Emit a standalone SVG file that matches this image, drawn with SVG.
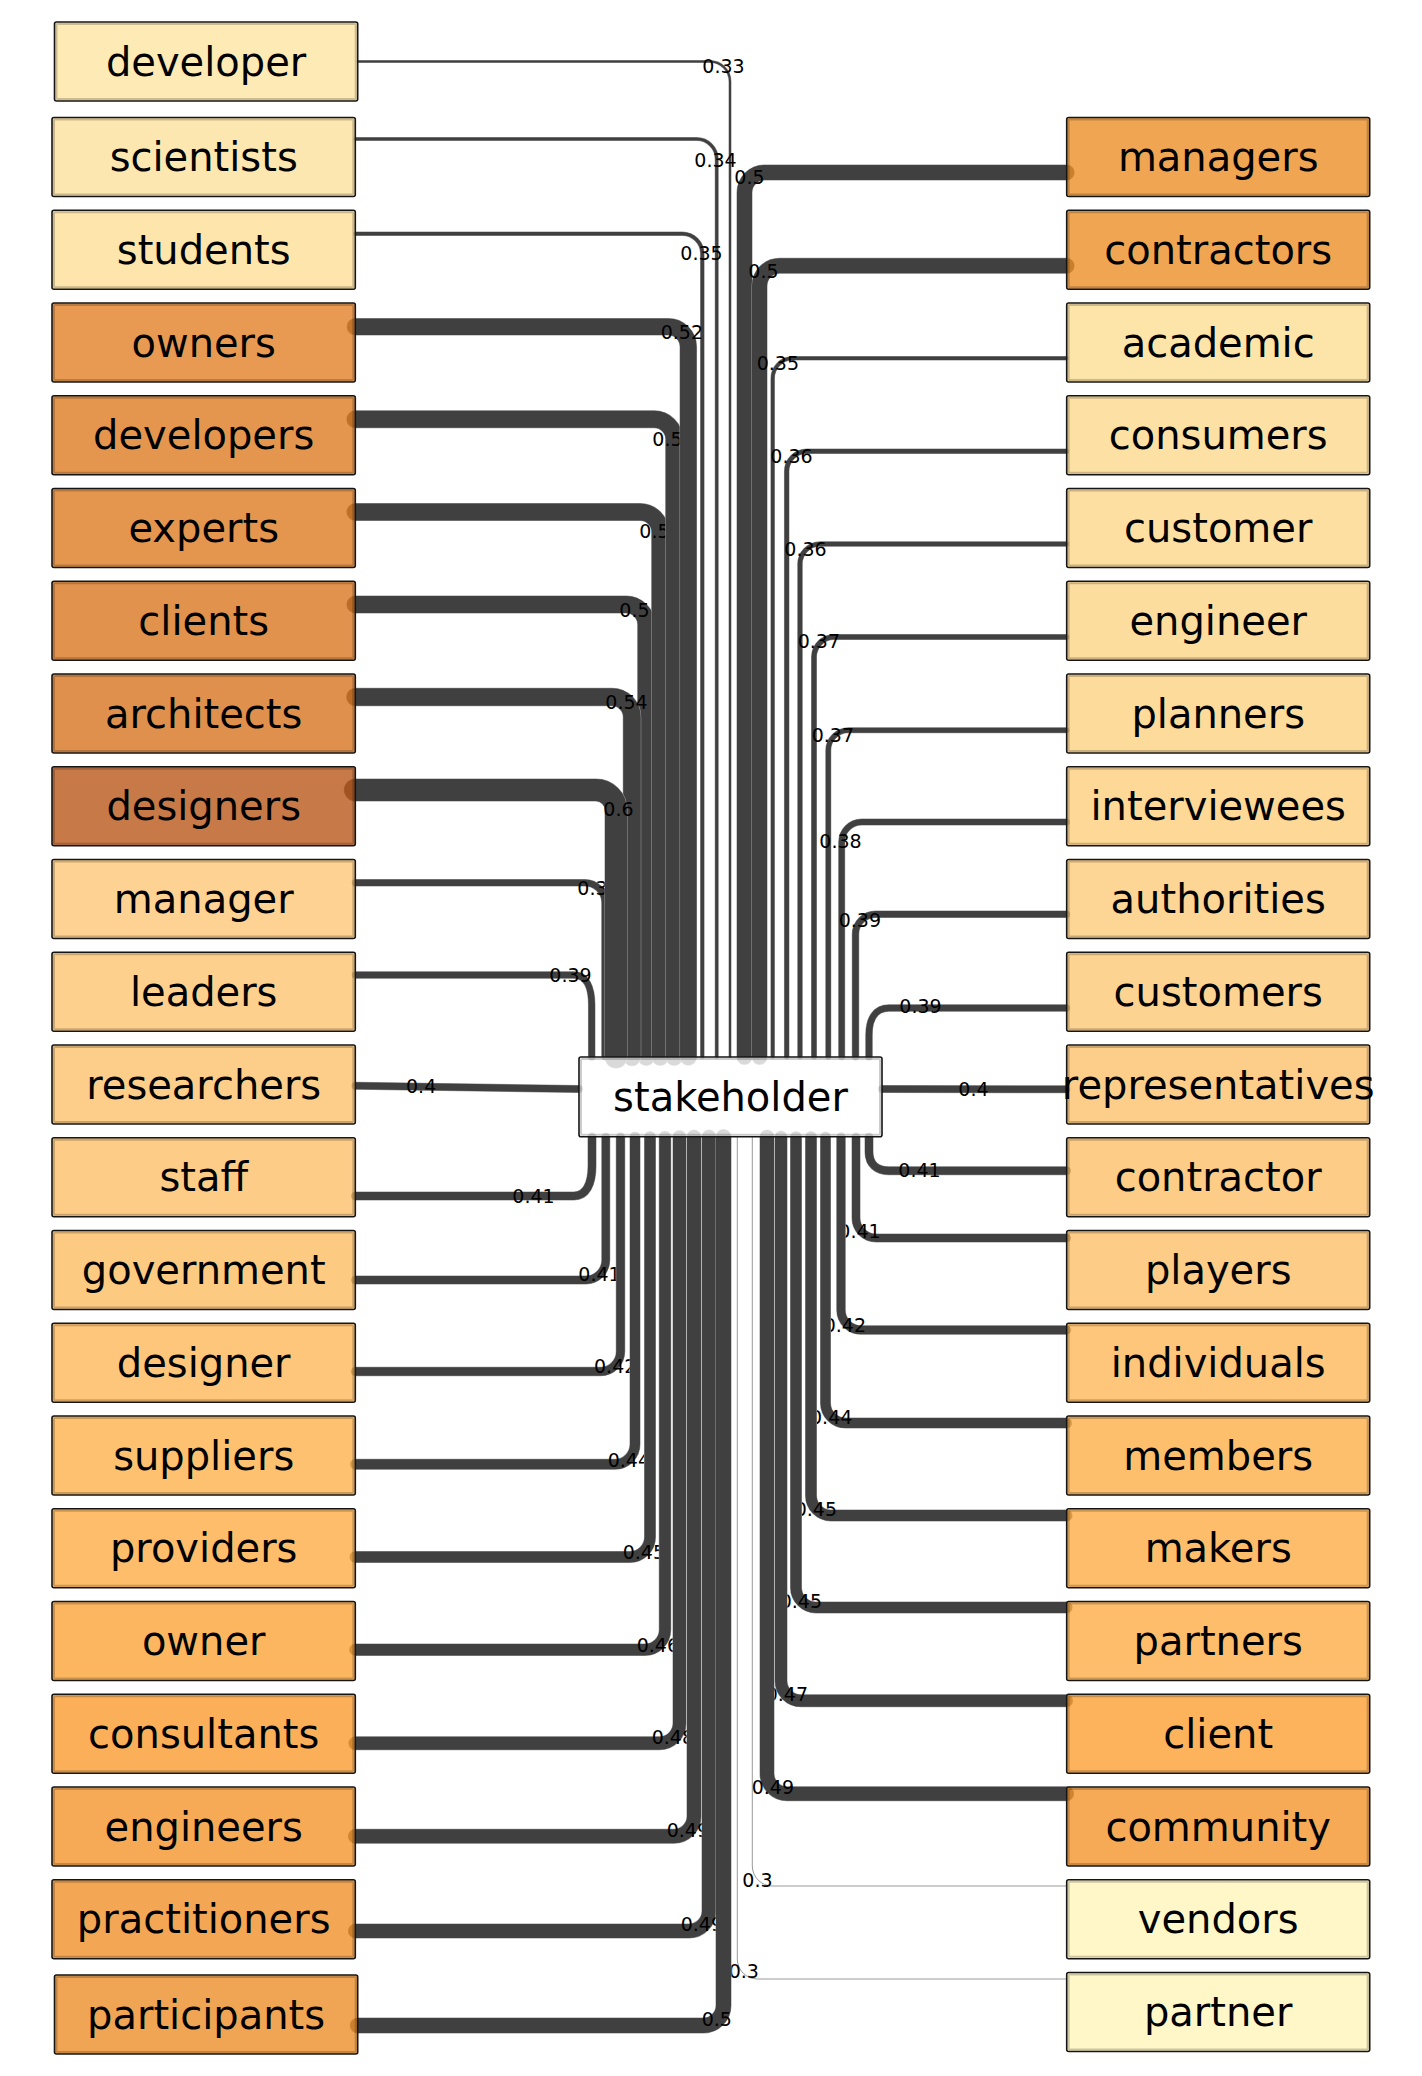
<svg xmlns="http://www.w3.org/2000/svg" xmlns:xlink="http://www.w3.org/1999/xlink" width="1422" height="2076" viewBox="0 0 1422 2076">
<style>
  .halo{fill:none;stroke:#9c9c9c;stroke-linecap:round;stroke-linejoin:round}
  .line{fill:none;stroke:#404040;stroke-linecap:round;stroke-linejoin:round}
  .thin{fill:none;stroke:#9a9a9a;stroke-width:1}
  .lbl{font-family:"DejaVu Sans",sans-serif;font-size:19px;fill:#000}
  .node rect.box{fill-opacity:0.8;stroke:#151515;stroke-width:1.6}
  .node rect.rim{fill:none;stroke:#000;stroke-opacity:0.2;stroke-width:2}
  .node text{font-family:"DejaVu Sans",sans-serif;font-size:40px;text-anchor:middle;fill:#000}
</style>
<defs>
  <!-- edge geometry: left column, routed over the hub -->
  <path id="p-developer" d="M357.7 61.5 H710 C721 61.5 730 70.5 730 81.5 V1057"/>
  <path id="p-scientists" d="M355.3 139 H696.7 C707.7 139 716.7 148 716.7 159 V1057"/>
  <path id="p-students" d="M355.3 233.7 H682.3 C693.3 233.7 702.3 242.7 702.3 253.7 V1057"/>
  <path id="p-owners" d="M355.3 326.7 H668.3 C679.3 326.7 688.3 335.7 688.3 346.7 V1057"/>
  <path id="p-developers" d="M355.3 419.3 H654.2 C665.2 419.3 674.2 428.3 674.2 439.3 V1057"/>
  <path id="p-experts" d="M355.3 512 H640.2 C651.2 512 660.2 521 660.2 532 V1057"/>
  <path id="p-clients" d="M355.3 604.5 H626.2 C637.2 604.5 646.2 613.5 646.2 624.5 V1057"/>
  <path id="p-architects" d="M355.3 697 H612 C623 697 632 706 632 717 V1057"/>
  <path id="p-designers" d="M355.3 790 H596 C607 790 616 799 616 810 V1057"/>
  <path id="p-manager" d="M355.3 882.7 H585 C596 882.7 605 891.7 605 902.7 V1057"/>
  <path id="p-leaders" d="M355.3 975 H574 C586 975 591.7 987 591.7 1005 V1057"/>
  <!-- right column, routed over the hub -->
  <path id="p-managers" d="M1066.7 172.5 H764.5 C753.5 172.5 744.5 181.5 744.5 192.5 V1057"/>
  <path id="p-contractors" d="M1066.7 265.8 H779.5 C768.5 265.8 759.5 274.8 759.5 285.8 V1057"/>
  <path id="p-academic" d="M1066.7 358.3 H792.7 C781.7 358.3 772.7 367.3 772.7 378.3 V1057"/>
  <path id="p-consumers" d="M1066.7 451.3 H806.7 C795.7 451.3 786.7 460.3 786.7 471.3 V1057"/>
  <path id="p-customer" d="M1066.7 544 H820 C809 544 800 553 800 564 V1057"/>
  <path id="p-engineer" d="M1066.7 637 H834 C823 637 814 646 814 657 V1057"/>
  <path id="p-planners" d="M1066.7 730.3 H848.3 C837.3 730.3 828.3 739.3 828.3 750.3 V1057"/>
  <path id="p-interviewees" d="M1066.7 822 H861.7 C850.7 822 841.7 831 841.7 842 V1057"/>
  <path id="p-authorities" d="M1066.7 914.2 H875.5 C864.5 914.2 855.5 923.2 855.5 934.2 V1057"/>
  <path id="p-customers" d="M1066.7 1008 H889 C876 1008 869 1018 869 1035 V1057"/>
  <!-- straight side links -->
  <path id="p-researchers" d="M355.3 1085.8 L579 1089"/>
  <path id="p-representatives" d="M882 1089 L1066.7 1089.3"/>
  <!-- left column, routed under the hub -->
  <path id="p-staff" d="M355.3 1196 H574 C586 1196 592 1184 592 1166 V1137"/>
  <path id="p-government" d="M355.3 1280 H585.8 C596.8 1280 605.8 1271 605.8 1260 V1137"/>
  <path id="p-designer" d="M355.3 1371.6 H600.5 C611.5 1371.6 620.5 1362.6 620.5 1351.6 V1137"/>
  <path id="p-suppliers" d="M355.3 1464.3 H615 C626 1464.3 635 1455.3 635 1444.3 V1137"/>
  <path id="p-providers" d="M355.3 1557 H630 C641 1557 650 1548 650 1537 V1137"/>
  <path id="p-owner" d="M355.3 1649.7 H645 C656 1649.7 665 1640.7 665 1629.7 V1137"/>
  <path id="p-consultants" d="M355.3 1743.3 H659.5 C670.5 1743.3 679.5 1734.3 679.5 1723.3 V1137"/>
  <path id="p-engineers" d="M355.3 1836.3 H674 C685 1836.3 694 1827.3 694 1816.3 V1137"/>
  <path id="p-practitioners" d="M355.3 1931 H689 C700 1931 709 1922 709 1911 V1137"/>
  <path id="p-participants" d="M357.7 2025.5 H703.5 C714.5 2025.5 723.5 2016.5 723.5 2005.5 V1137"/>
  <!-- right column, routed under the hub -->
  <path id="p-contractor" d="M1066.7 1170.8 H889 C877 1170.8 869 1164 869 1152 V1137"/>
  <path id="p-players" d="M1066.7 1238 H876 C865 1238 856 1229 856 1218 V1137"/>
  <path id="p-individuals" d="M1066.7 1330 H861 C850 1330 841 1321 841 1310 V1137"/>
  <path id="p-members" d="M1066.7 1423 H845.5 C834.5 1423 825.5 1414 825.5 1403 V1137"/>
  <path id="p-makers" d="M1066.7 1515.5 H831 C820 1515.5 811 1506.5 811 1495.5 V1137"/>
  <path id="p-partners" d="M1066.7 1607.5 H816 C805 1607.5 796 1598.5 796 1587.5 V1137"/>
  <path id="p-client" d="M1066.7 1700.8 H801 C790 1700.8 781 1691.8 781 1680.8 V1137"/>
  <path id="p-community" d="M1066.7 1793.7 H787 C776 1793.7 767 1784.7 767 1773.7 V1137"/>
  <path id="p-vendors" d="M1066.7 1886 H772.3 C761.3 1886 752.3 1877 752.3 1866 V1137"/>
  <path id="p-partner" d="M1066.7 1979 H757.3 C746.3 1979 737.3 1970 737.3 1959 V1137"/>
</defs>
<rect width="1422" height="2076" fill="#fff"/>
<!-- connectors, weakest first so heavier links sit on top -->
<g id="connectors">
  <g id="e-vendors"><use href="#p-vendors" class="thin"/><text class="lbl" x="742.3" y="1887.3">0.3</text></g>
  <g id="e-partner"><use href="#p-partner" class="thin"/><text class="lbl" x="728.7" y="1978.3">0.3</text></g>
  <g id="e-developer"><use href="#p-developer" class="halo" stroke-width="3"/><use href="#p-developer" class="line" stroke-width="2"/><text class="lbl" x="702.3" y="73.3">0.33</text></g>
  <g id="e-scientists"><use href="#p-scientists" class="halo" stroke-width="4"/><use href="#p-scientists" class="line" stroke-width="3"/><text class="lbl" x="694.3" y="166.7">0.34</text></g>
  <g id="e-students"><use href="#p-students" class="halo" stroke-width="4.5"/><use href="#p-students" class="line" stroke-width="3.5"/><text class="lbl" x="680.3" y="260">0.35</text></g>
  <g id="e-academic"><use href="#p-academic" class="halo" stroke-width="4.5"/><use href="#p-academic" class="line" stroke-width="3.5"/></g>
  <g id="e-consumers"><use href="#p-consumers" class="halo" stroke-width="5.5"/><use href="#p-consumers" class="line" stroke-width="4.5"/><text class="lbl" x="770.3" y="463.3">0.36</text></g>
  <g id="e-customer"><use href="#p-customer" class="halo" stroke-width="5.5"/><use href="#p-customer" class="line" stroke-width="4.5"/><text class="lbl" x="784.3" y="556">0.36</text></g>
  <g id="e-engineer"><use href="#p-engineer" class="halo" stroke-width="6"/><use href="#p-engineer" class="line" stroke-width="5"/><text class="lbl" x="797.7" y="648.3">0.37</text></g>
  <g id="e-planners"><use href="#p-planners" class="halo" stroke-width="6"/><use href="#p-planners" class="line" stroke-width="5"/><text class="lbl" x="811.7" y="741.7">0.37</text></g>
  <g id="e-interviewees"><use href="#p-interviewees" class="halo" stroke-width="7"/><use href="#p-interviewees" class="line" stroke-width="6"/><text class="lbl" x="819.3" y="847.7">0.38</text></g>
  <g id="e-manager"><use href="#p-manager" class="halo" stroke-width="7.5"/><use href="#p-manager" class="line" stroke-width="6.5"/><text class="lbl" x="577.3" y="895">0.3</text></g>
  <g id="e-leaders"><use href="#p-leaders" class="halo" stroke-width="7.5"/><use href="#p-leaders" class="line" stroke-width="6.5"/><text class="lbl" x="549.3" y="982.3">0.39</text></g>
  <g id="e-authorities"><use href="#p-authorities" class="halo" stroke-width="7.5"/><use href="#p-authorities" class="line" stroke-width="6.5"/><text class="lbl" x="838.7" y="926.7">0.39</text></g>
  <g id="e-customers"><use href="#p-customers" class="halo" stroke-width="7.5"/><use href="#p-customers" class="line" stroke-width="6.5"/><text class="lbl" x="899.3" y="1013.3">0.39</text></g>
  <g id="e-researchers"><use href="#p-researchers" class="halo" stroke-width="8"/><use href="#p-researchers" class="line" stroke-width="7"/><text class="lbl" x="406" y="1093.3">0.4</text></g>
  <g id="e-representatives"><use href="#p-representatives" class="halo" stroke-width="8"/><use href="#p-representatives" class="line" stroke-width="7"/><text class="lbl" x="958.3" y="1095.7">0.4</text></g>
  <g id="e-staff"><use href="#p-staff" class="halo" stroke-width="9"/><use href="#p-staff" class="line" stroke-width="8"/><text class="lbl" x="512.3" y="1202.7">0.41</text></g>
  <g id="e-government"><use href="#p-government" class="halo" stroke-width="9"/><use href="#p-government" class="line" stroke-width="8"/><text class="lbl" x="578.3" y="1280.7">0.41</text></g>
  <g id="e-contractor"><use href="#p-contractor" class="halo" stroke-width="9"/><use href="#p-contractor" class="line" stroke-width="8"/><text class="lbl" x="898.3" y="1177.3">0.41</text></g>
  <g id="e-players"><use href="#p-players" class="halo" stroke-width="9"/><use href="#p-players" class="line" stroke-width="8"/><text class="lbl" x="838.3" y="1238.3">0.41</text></g>
  <g id="e-designer"><use href="#p-designer" class="halo" stroke-width="9.5"/><use href="#p-designer" class="line" stroke-width="8.5"/><text class="lbl" x="594" y="1373.3">0.42</text></g>
  <g id="e-individuals"><use href="#p-individuals" class="halo" stroke-width="9.5"/><use href="#p-individuals" class="line" stroke-width="8.5"/><text class="lbl" x="823.7" y="1331.7">0.42</text></g>
  <g id="e-suppliers"><use href="#p-suppliers" class="halo" stroke-width="11"/><use href="#p-suppliers" class="line" stroke-width="10"/><text class="lbl" x="607.7" y="1466.7">0.44</text></g>
  <g id="e-members"><use href="#p-members" class="halo" stroke-width="11"/><use href="#p-members" class="line" stroke-width="10"/><text class="lbl" x="810" y="1424">0.44</text></g>
  <g id="e-providers"><use href="#p-providers" class="halo" stroke-width="12"/><use href="#p-providers" class="line" stroke-width="11"/><text class="lbl" x="622.7" y="1559">0.45</text></g>
  <g id="e-makers"><use href="#p-makers" class="halo" stroke-width="12"/><use href="#p-makers" class="line" stroke-width="11"/><text class="lbl" x="794.7" y="1516">0.45</text></g>
  <g id="e-partners"><use href="#p-partners" class="halo" stroke-width="12"/><use href="#p-partners" class="line" stroke-width="11"/><text class="lbl" x="779.7" y="1608.3">0.45</text></g>
  <g id="e-owner"><use href="#p-owner" class="halo" stroke-width="12.5"/><use href="#p-owner" class="line" stroke-width="11.5"/><text class="lbl" x="636.7" y="1651.7">0.46</text></g>
  <g id="e-client"><use href="#p-client" class="halo" stroke-width="13"/><use href="#p-client" class="line" stroke-width="12"/><text class="lbl" x="765.7" y="1701">0.47</text></g>
  <g id="e-consultants"><use href="#p-consultants" class="halo" stroke-width="14"/><use href="#p-consultants" class="line" stroke-width="13"/><text class="lbl" x="651.7" y="1744.3">0.48</text></g>
  <g id="e-community"><use href="#p-community" class="halo" stroke-width="15"/><use href="#p-community" class="line" stroke-width="14"/><text class="lbl" x="751.7" y="1794.3">0.49</text></g>
  <g id="e-engineers"><use href="#p-engineers" class="halo" stroke-width="15"/><use href="#p-engineers" class="line" stroke-width="14"/><text class="lbl" x="666.7" y="1836.7">0.49</text></g>
  <g id="e-practitioners"><use href="#p-practitioners" class="halo" stroke-width="15"/><use href="#p-practitioners" class="line" stroke-width="14"/><text class="lbl" x="680.7" y="1931">0.49</text></g>
  <g id="e-managers"><use href="#p-managers" class="halo" stroke-width="16"/><use href="#p-managers" class="line" stroke-width="15"/><text class="lbl" x="734.3" y="184.3">0.5</text></g>
  <g id="e-contractors"><use href="#p-contractors" class="halo" stroke-width="16"/><use href="#p-contractors" class="line" stroke-width="15"/><text class="lbl" x="748.3" y="278.3">0.5</text></g>
  <!-- academic's weight label sits above the neighbouring band -->
  <text id="e-academic-label" class="lbl" x="756.7" y="370">0.35</text>
  <g id="e-participants"><use href="#p-participants" class="halo" stroke-width="16"/><use href="#p-participants" class="line" stroke-width="15"/><text class="lbl" x="701.7" y="2026">0.5</text></g>
  <g id="e-clients"><use href="#p-clients" class="halo" stroke-width="18"/><use href="#p-clients" class="line" stroke-width="17"/><text class="lbl" x="619.3" y="617.3">0.5</text></g>
  <g id="e-experts"><use href="#p-experts" class="halo" stroke-width="18"/><use href="#p-experts" class="line" stroke-width="17"/><text class="lbl" x="639.3" y="538.3">0.5</text></g>
  <g id="e-developers"><use href="#p-developers" class="halo" stroke-width="18"/><use href="#p-developers" class="line" stroke-width="17"/><text class="lbl" x="652.3" y="446">0.5</text></g>
  <g id="e-owners"><use href="#p-owners" class="halo" stroke-width="17.5"/><use href="#p-owners" class="line" stroke-width="16.5"/><text class="lbl" x="660.7" y="339.3">0.52</text></g>
  <g id="e-architects"><use href="#p-architects" class="halo" stroke-width="18.5"/><use href="#p-architects" class="line" stroke-width="17.5"/><text class="lbl" x="605.3" y="709.3">0.54</text></g>
  <g id="e-designers"><use href="#p-designers" class="halo" stroke-width="23"/><use href="#p-designers" class="line" stroke-width="22"/><text class="lbl" x="603.3" y="816">0.6</text></g>
</g>
<!-- hub -->
<g id="node-stakeholder" class="node"><rect class="box" x="579" y="1057" width="303" height="79.7" rx="2" fill="#ffffff"/><rect class="rim" x="581" y="1059" width="299" height="75.7" rx="1"/><text x="730.5" y="1111">stakeholder</text></g>
<!-- left column -->
<g id="node-developer" class="node"><rect class="box" x="54.5" y="22" width="303.2" height="79" rx="2" fill="#fee5a1"/><rect class="rim" x="56.5" y="24" width="299.2" height="75" rx="1"/><text x="206.1" y="75.5">developer</text></g>
<g id="node-scientists" class="node"><rect class="box" x="52" y="117.5" width="303.3" height="79" rx="2" fill="#fde19c"/><rect class="rim" x="54" y="119.5" width="299.3" height="75" rx="1"/><text x="203.7" y="171">scientists</text></g>
<g id="node-students" class="node"><rect class="box" x="52" y="210.25" width="303.3" height="79" rx="2" fill="#fdde97"/><rect class="rim" x="54" y="212.25" width="299.3" height="75" rx="1"/><text x="203.7" y="263.75">students</text></g>
<g id="node-owners" class="node"><rect class="box" x="52" y="303" width="303.3" height="79" rx="2" fill="#e28127"/><rect class="rim" x="54" y="305" width="299.3" height="75" rx="1"/><text x="203.7" y="356.5">owners</text></g>
<g id="node-developers" class="node"><rect class="box" x="52" y="395.75" width="303.3" height="79" rx="2" fill="#dd7c22"/><rect class="rim" x="54" y="397.75" width="299.3" height="75" rx="1"/><text x="203.7" y="449.25">developers</text></g>
<g id="node-experts" class="node"><rect class="box" x="52" y="488.5" width="303.3" height="79" rx="2" fill="#dd7c22"/><rect class="rim" x="54" y="490.5" width="299.3" height="75" rx="1"/><text x="203.7" y="542">experts</text></g>
<g id="node-clients" class="node"><rect class="box" x="52" y="581.25" width="303.3" height="79" rx="2" fill="#da771f"/><rect class="rim" x="54" y="583.25" width="299.3" height="75" rx="1"/><text x="203.7" y="634.75">clients</text></g>
<g id="node-architects" class="node"><rect class="box" x="52" y="674" width="303.3" height="79" rx="2" fill="#d7741f"/><rect class="rim" x="54" y="676" width="299.3" height="75" rx="1"/><text x="203.7" y="727.5">architects</text></g>
<g id="node-designers" class="node"><rect class="box" x="52" y="766.75" width="303.3" height="79" rx="2" fill="#b95819"/><rect class="rim" x="54" y="768.75" width="299.3" height="75" rx="1"/><text x="203.7" y="820.25">designers</text></g>
<g id="node-manager" class="node"><rect class="box" x="52" y="859.5" width="303.3" height="79" rx="2" fill="#fdc777"/><rect class="rim" x="54" y="861.5" width="299.3" height="75" rx="1"/><text x="203.7" y="913">manager</text></g>
<g id="node-leaders" class="node"><rect class="box" x="52" y="952.25" width="303.3" height="79" rx="2" fill="#fdc472"/><rect class="rim" x="54" y="954.25" width="299.3" height="75" rx="1"/><text x="203.7" y="1005.75">leaders</text></g>
<g id="node-researchers" class="node"><rect class="box" x="52" y="1045" width="303.3" height="79" rx="2" fill="#fdc26d"/><rect class="rim" x="54" y="1047" width="299.3" height="75" rx="1"/><text x="203.7" y="1098.5">researchers</text></g>
<g id="node-staff" class="node"><rect class="box" x="52" y="1137.75" width="303.3" height="79" rx="2" fill="#fdbf68"/><rect class="rim" x="54" y="1139.75" width="299.3" height="75" rx="1"/><text x="203.7" y="1191.25">staff</text></g>
<g id="node-government" class="node"><rect class="box" x="52" y="1230.5" width="303.3" height="79" rx="2" fill="#fdbd63"/><rect class="rim" x="54" y="1232.5" width="299.3" height="75" rx="1"/><text x="203.7" y="1284">government</text></g>
<g id="node-designer" class="node"><rect class="box" x="52" y="1323.25" width="303.3" height="79" rx="2" fill="#fdb859"/><rect class="rim" x="54" y="1325.25" width="299.3" height="75" rx="1"/><text x="203.7" y="1376.75">designer</text></g>
<g id="node-suppliers" class="node"><rect class="box" x="52" y="1416" width="303.3" height="79" rx="2" fill="#fdb24c"/><rect class="rim" x="54" y="1418" width="299.3" height="75" rx="1"/><text x="203.7" y="1469.5">suppliers</text></g>
<g id="node-providers" class="node"><rect class="box" x="52" y="1508.75" width="303.3" height="79" rx="2" fill="#fdad45"/><rect class="rim" x="54" y="1510.75" width="299.3" height="75" rx="1"/><text x="203.7" y="1562.25">providers</text></g>
<g id="node-owner" class="node"><rect class="box" x="52" y="1601.5" width="303.3" height="79" rx="2" fill="#fda438"/><rect class="rim" x="54" y="1603.5" width="299.3" height="75" rx="1"/><text x="203.7" y="1655">owner</text></g>
<g id="node-consultants" class="node"><rect class="box" x="52" y="1694.25" width="303.3" height="79" rx="2" fill="#fa9b30"/><rect class="rim" x="54" y="1696.25" width="299.3" height="75" rx="1"/><text x="203.7" y="1747.75">consultants</text></g>
<g id="node-engineers" class="node"><rect class="box" x="52" y="1787" width="303.3" height="79" rx="2" fill="#f4952c"/><rect class="rim" x="54" y="1789" width="299.3" height="75" rx="1"/><text x="203.7" y="1840.5">engineers</text></g>
<g id="node-practitioners" class="node"><rect class="box" x="52" y="1879.75" width="303.3" height="79" rx="2" fill="#f09029"/><rect class="rim" x="54" y="1881.75" width="299.3" height="75" rx="1"/><text x="203.7" y="1933.25">practitioners</text></g>
<g id="node-participants" class="node"><rect class="box" x="54.5" y="1975" width="303.2" height="79" rx="2" fill="#ec8f29"/><rect class="rim" x="56.5" y="1977" width="299.2" height="75" rx="1"/><text x="206.1" y="2028.5">participants</text></g>
<!-- right column -->
<g id="node-managers" class="node"><rect class="box" x="1066.7" y="117.5" width="303" height="79" rx="2" fill="#ec8f27"/><rect class="rim" x="1068.7" y="119.5" width="299" height="75" rx="1"/><text x="1218.2" y="171">managers</text></g>
<g id="node-contractors" class="node"><rect class="box" x="1066.7" y="210.25" width="303" height="79" rx="2" fill="#ec8f27"/><rect class="rim" x="1068.7" y="212.25" width="299" height="75" rx="1"/><text x="1218.2" y="263.75">contractors</text></g>
<g id="node-academic" class="node"><rect class="box" x="1066.7" y="303" width="303" height="79" rx="2" fill="#fddd92"/><rect class="rim" x="1068.7" y="305" width="299" height="75" rx="1"/><text x="1218.2" y="356.5">academic</text></g>
<g id="node-consumers" class="node"><rect class="box" x="1066.7" y="395.75" width="303" height="79" rx="2" fill="#fdd98d"/><rect class="rim" x="1068.7" y="397.75" width="299" height="75" rx="1"/><text x="1218.2" y="449.25">consumers</text></g>
<g id="node-customer" class="node"><rect class="box" x="1066.7" y="488.5" width="303" height="79" rx="2" fill="#fdd78a"/><rect class="rim" x="1068.7" y="490.5" width="299" height="75" rx="1"/><text x="1218.2" y="542">customer</text></g>
<g id="node-engineer" class="node"><rect class="box" x="1066.7" y="581.25" width="303" height="79" rx="2" fill="#fdd586"/><rect class="rim" x="1068.7" y="583.25" width="299" height="75" rx="1"/><text x="1218.2" y="634.75">engineer</text></g>
<g id="node-planners" class="node"><rect class="box" x="1066.7" y="674" width="303" height="79" rx="2" fill="#fdd282"/><rect class="rim" x="1068.7" y="676" width="299" height="75" rx="1"/><text x="1218.2" y="727.5">planners</text></g>
<g id="node-interviewees" class="node"><rect class="box" x="1066.7" y="766.75" width="303" height="79" rx="2" fill="#fdce7c"/><rect class="rim" x="1068.7" y="768.75" width="299" height="75" rx="1"/><text x="1218.2" y="820.25">interviewees</text></g>
<g id="node-authorities" class="node"><rect class="box" x="1066.7" y="859.5" width="303" height="79" rx="2" fill="#fdcb79"/><rect class="rim" x="1068.7" y="861.5" width="299" height="75" rx="1"/><text x="1218.2" y="913">authorities</text></g>
<g id="node-customers" class="node"><rect class="box" x="1066.7" y="952.25" width="303" height="79" rx="2" fill="#fdc876"/><rect class="rim" x="1068.7" y="954.25" width="299" height="75" rx="1"/><text x="1218.2" y="1005.75">customers</text></g>
<g id="node-representatives" class="node"><rect class="box" x="1066.7" y="1045" width="303" height="79" rx="2" fill="#fdc26d"/><rect class="rim" x="1068.7" y="1047" width="299" height="75" rx="1"/><text x="1218.2" y="1098.5">representatives</text></g>
<g id="node-contractor" class="node"><rect class="box" x="1066.7" y="1137.75" width="303" height="79" rx="2" fill="#fdbf68"/><rect class="rim" x="1068.7" y="1139.75" width="299" height="75" rx="1"/><text x="1218.2" y="1191.25">contractor</text></g>
<g id="node-players" class="node"><rect class="box" x="1066.7" y="1230.5" width="303" height="79" rx="2" fill="#fdbf68"/><rect class="rim" x="1068.7" y="1232.5" width="299" height="75" rx="1"/><text x="1218.2" y="1284">players</text></g>
<g id="node-individuals" class="node"><rect class="box" x="1066.7" y="1323.25" width="303" height="79" rx="2" fill="#fdb859"/><rect class="rim" x="1068.7" y="1325.25" width="299" height="75" rx="1"/><text x="1218.2" y="1376.75">individuals</text></g>
<g id="node-members" class="node"><rect class="box" x="1066.7" y="1416" width="303" height="79" rx="2" fill="#fdaf47"/><rect class="rim" x="1068.7" y="1418" width="299" height="75" rx="1"/><text x="1218.2" y="1469.5">members</text></g>
<g id="node-makers" class="node"><rect class="box" x="1066.7" y="1508.75" width="303" height="79" rx="2" fill="#fdad45"/><rect class="rim" x="1068.7" y="1510.75" width="299" height="75" rx="1"/><text x="1218.2" y="1562.25">makers</text></g>
<g id="node-partners" class="node"><rect class="box" x="1066.7" y="1601.5" width="303" height="79" rx="2" fill="#fdad45"/><rect class="rim" x="1068.7" y="1603.5" width="299" height="75" rx="1"/><text x="1218.2" y="1655">partners</text></g>
<g id="node-client" class="node"><rect class="box" x="1066.7" y="1694.25" width="303" height="79" rx="2" fill="#fd9f33"/><rect class="rim" x="1068.7" y="1696.25" width="299" height="75" rx="1"/><text x="1218.2" y="1747.75">client</text></g>
<g id="node-community" class="node"><rect class="box" x="1066.7" y="1787" width="303" height="79" rx="2" fill="#f4952c"/><rect class="rim" x="1068.7" y="1789" width="299" height="75" rx="1"/><text x="1218.2" y="1840.5">community</text></g>
<g id="node-vendors" class="node"><rect class="box" x="1066.7" y="1879.75" width="303" height="79" rx="2" fill="#fff5ba"/><rect class="rim" x="1068.7" y="1881.75" width="299" height="75" rx="1"/><text x="1218.2" y="1933.25">vendors</text></g>
<g id="node-partner" class="node"><rect class="box" x="1066.7" y="1972.5" width="303" height="79" rx="2" fill="#fff5ba"/><rect class="rim" x="1068.7" y="1974.5" width="299" height="75" rx="1"/><text x="1218.2" y="2026">partner</text></g>
</svg>
